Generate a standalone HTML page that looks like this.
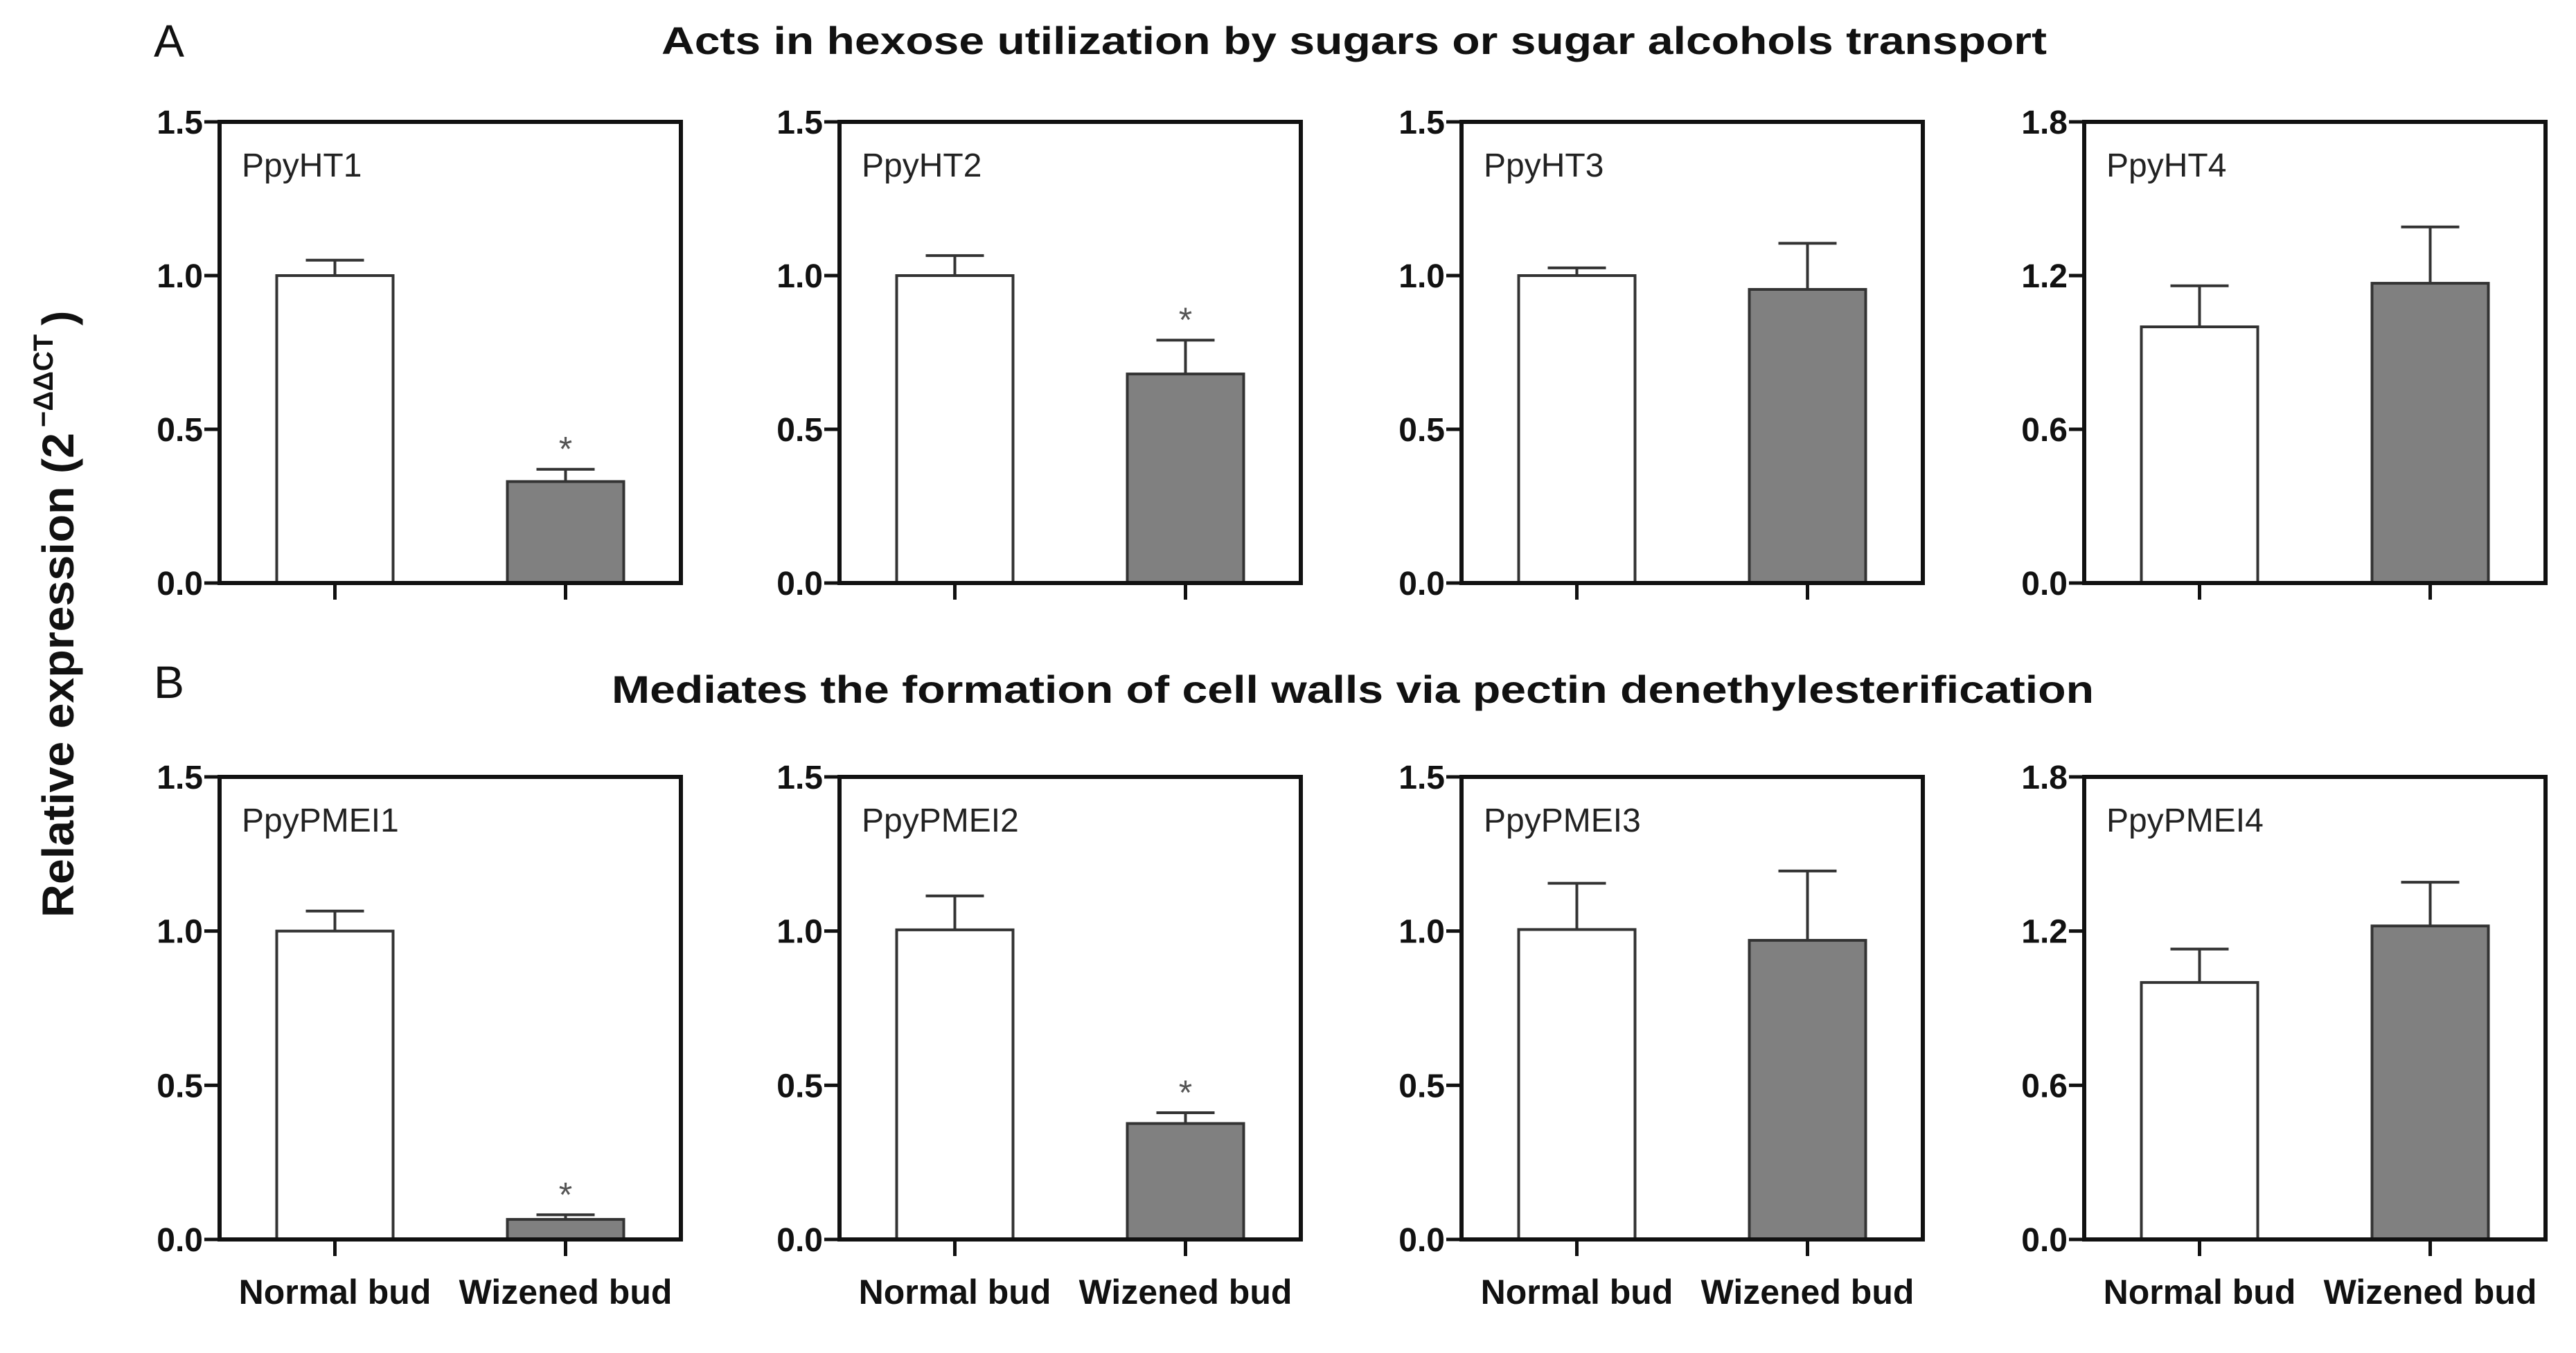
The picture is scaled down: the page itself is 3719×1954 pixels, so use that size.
<!DOCTYPE html>
<html><head><meta charset="utf-8"><style>
html,body{margin:0;padding:0;background:#fff;}
svg{display:block;font-family:"Liberation Sans",Arial,sans-serif;}
</style></head><body>
<svg id="fig" width="3719" height="1954" viewBox="0 0 3719 1954" xmlns="http://www.w3.org/2000/svg">
<rect x="0" y="0" width="3719" height="1954" fill="#fff"/>
<text x="222" y="82" font-size="66" fill="#111">A</text>
<text x="222" y="1008" font-size="66" fill="#111">B</text>
<text x="1955" y="78" font-size="56" font-weight="bold" text-anchor="middle" textLength="2000" lengthAdjust="spacingAndGlyphs" fill="#111">Acts in hexose utilization by sugars or sugar alcohols transport</text>
<text x="1953" y="1015" font-size="56" font-weight="bold" text-anchor="middle" textLength="2140" lengthAdjust="spacingAndGlyphs" fill="#111">Mediates the formation of cell walls via pectin denethylesterification</text>
<g transform="translate(106,1325) rotate(-90)">
<text x="0" y="0" font-size="64" font-weight="bold" fill="#111" textLength="700" lengthAdjust="spacingAndGlyphs">Relative expression (2</text>
<text x="708" y="-30" font-size="40" font-weight="bold" fill="#111">−ΔΔCT</text>
<text x="855" y="0" font-size="64" font-weight="bold" fill="#111">)</text>
</g>
<g id="plots"></g>
</svg>
<script>
const genes = ["PpyHT1","PpyHT2","PpyHT3","PpyHT4","PpyPMEI1","PpyPMEI2","PpyPMEI3","PpyPMEI4"];
const categories = ["Normal bud","Wizened bud"];
const normalValues = [1.0, 1.0, 1.0, 1.0, 1.0, 1.004, 1.005, 1.0];
const normalErrors = [0.05, 0.065, 0.025, 0.16, 0.065, 0.11, 0.15, 0.13];
const wizenedValues = [0.33, 0.68, 0.955, 1.17, 0.065, 0.376, 0.97, 1.22];
const wizenedErrors = [0.04, 0.11, 0.15, 0.22, 0.015, 0.035, 0.225, 0.17];
const significant = [true, true, false, false, true, true, false, false];
const yMaxValues = [1.5, 1.5, 1.5, 1.8, 1.5, 1.5, 1.5, 1.8];
const tickLabelsA = ["0.0","0.5","1.0","1.5"];
const tickLabelsB = ["0.0","0.6","1.2","1.8"];

const NS = "http://www.w3.org/2000/svg";
const root = document.getElementById("plots");
function mk(tag, attrs, parent){ const e=document.createElementNS(NS,tag); for(const k in attrs) e.setAttribute(k,attrs[k]); (parent||root).appendChild(e); return e; }

const lefts = [317, 1212, 2110, 3009];
const W = 666;
const rows = [{top:176,bottom:842},{top:1122,bottom:1790}];

genes.forEach((g,i)=>{
  const L = lefts[i%4], r = rows[Math.floor(i/4)];
  const ymax = yMaxValues[i];
  const y = v => r.bottom - (v/ymax)*(r.bottom-r.top);
  const xc = k => L + W*(k===0?0.25:0.75);
  const grp = mk("g",{});
  
  
  const labels = ymax===1.8 ? tickLabelsB : tickLabelsA;
  labels.forEach(t=>{
    const v=parseFloat(t), yy=y(v);
    const tk = mk("line",{x1:L-22,x2:L,y1:yy,y2:yy,stroke:"#111","stroke-width":5},grp);
    
    
    const tl = mk("text",{x:L-24,y:yy+17,"font-size":48,"font-weight":"bold","text-anchor":"end",fill:"#111"},grp);
    
    
    tl.textContent=t;
  });
  const vals=[normalValues[i],wizenedValues[i]], errs=[normalErrors[i],wizenedErrors[i]];
  vals.forEach((v,k)=>{
    const cx=xc(k), bw=168;
    const eb = mk("path",{d:`M${cx},${y(v)} V${y(v+errs[k])} M${cx-42},${y(v+errs[k])} H${cx+42}`,stroke:"#333","stroke-width":4,fill:"none"},grp);
    
    
    const b = mk("rect",{x:cx-bw/2,y:y(v),width:bw,height:r.bottom-y(v),fill:k===0?"#fff":"#808080",stroke:"#333","stroke-width":4},grp);
    
    
    const ct = mk("line",{x1:cx,x2:cx,y1:r.bottom,y2:r.bottom+24,stroke:"#111","stroke-width":5},grp);
    
    
    if(k===1 && significant[i]){
      const s = mk("text",{x:cx,y:y(v+errs[k])-12,"font-size":50,"text-anchor":"middle",fill:"#555"},grp);
      
      
      s.textContent="*";
    }
    if(i>=4){
      const xl = mk("text",{x:cx,y:1883,"font-size":50,"font-weight":"bold","text-anchor":"middle",fill:"#111"},grp);
      
      
      xl.textContent=categories[k];
    }
  });
  const frame = mk("rect",{x:L,y:r.top,width:W,height:r.bottom-r.top,fill:"none",stroke:"#111","stroke-width":6},grp);
  
  
  const gl = mk("text",{x:L+32,y:r.top+79,"font-size":48,fill:"#222"},grp);
  
  
  gl.textContent=g;
});
</script>
</body></html>
